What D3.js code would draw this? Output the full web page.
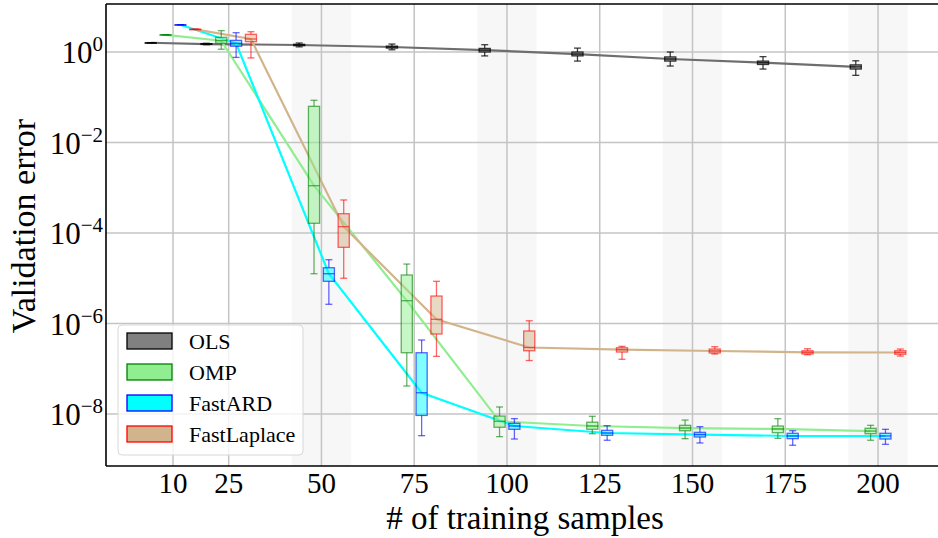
<!DOCTYPE html>
<html>
<head>
<meta charset="utf-8">
<script src="https://cdn.jsdelivr.net/npm/d3@7"></script>
<style>
  body { margin: 0; background: #fff; }
  svg { display: block; }
  text { font-family: "Liberation Serif", "DejaVu Serif", serif; fill: #000; }
</style>
</head>
<body>
<script>
var w = 938;
var h = 538;

// data
var sampleSizes = [10, 25, 50, 75, 100, 125, 150, 175, 200];
var methods = ["OLS", "OMP", "FastARD", "FastLaplace"];
var yTickExps = [0, -2, -4, -6, -8];
var bandCenters = [50, 100, 150, 200];

// each row: [whisker low, q1, median, q3, whisker high]
var olsStats = [
    [1.6, 1.6, 1.6, 1.6, 1.6],
    [1.45, 1.48, 1.5, 1.53, 1.56],
    [1.3, 1.38, 1.43, 1.48, 1.58],
    [1.12, 1.22, 1.29, 1.35, 1.5],
    [0.82, 1.0, 1.1, 1.2, 1.45],
    [0.63, 0.82, 0.9, 1.0, 1.22],
    [0.49, 0.63, 0.7, 0.78, 1.0],
    [0.42, 0.53, 0.58, 0.63, 0.79],
    [0.305, 0.42, 0.47, 0.52, 0.64]
];
var ompStats = [
    [2.4, 2.4, 2.4, 2.4, 2.4],
    [1.15, 1.56, 1.78, 2.11, 2.96],
    [1.26e-5, 1.64e-4, 1.11e-3, 0.063, 0.0857],
    [4.16e-8, 2.26e-7, 3.19e-6, 1.18e-5, 2.06e-5],
    [3.16e-9, 5.1e-9, 6.9e-9, 9.0e-9, 1.43e-8],
    [3.67e-9, 4.6e-9, 5.43e-9, 6.6e-9, 8.9e-9],
    [2.85e-9, 4.27e-9, 4.9e-9, 5.62e-9, 7.36e-9],
    [2.9e-9, 3.86e-9, 4.67e-9, 5.43e-9, 7.87e-9],
    [2.63e-9, 3.67e-9, 4.2e-9, 4.83e-9, 5.62e-9]
];
var ardStats = [
    [4.0, 4.0, 4.0, 4.0, 4.0],
    [0.76, 1.34, 1.56, 1.81, 2.67],
    [2.66e-6, 8.57e-6, 1.26e-5, 1.71e-5, 2.57e-5],
    [3.32e-9, 9.3e-9, 2.95e-8, 2.26e-7, 4.32e-7],
    [2.8e-9, 4.59e-9, 5.43e-9, 6.23e-9, 7.9e-9],
    [2.63e-9, 3.38e-9, 3.8e-9, 4.36e-9, 5.52e-9],
    [2.29e-9, 3.1e-9, 3.52e-9, 3.94e-9, 5.25e-9],
    [2.04e-9, 2.85e-9, 3.27e-9, 3.75e-9, 4.27e-9],
    [2.14e-9, 2.8e-9, 3.27e-9, 3.75e-9, 4.59e-9]
];
var lapStats = [
    [3.17, 3.17, 3.17, 3.17, 3.17],
    [0.74, 1.69, 1.94, 2.46, 2.81],
    [1.0e-5, 4.83e-5, 1.38e-4, 2.67e-4, 5.37e-4],
    [1.88e-7, 5.86e-7, 1.24e-6, 4.05e-6, 8.57e-6],
    [1.52e-7, 2.5e-7, 2.95e-7, 6.83e-7, 1.15e-6],
    [1.62e-7, 2.34e-7, 2.64e-7, 2.92e-7, 3.13e-7],
    [2.12e-7, 2.23e-7, 2.47e-7, 2.73e-7, 3.07e-7],
    [2.04e-7, 2.12e-7, 2.31e-7, 2.5e-7, 2.77e-7],
    [1.91e-7, 2.09e-7, 2.29e-7, 2.5e-7, 2.73e-7]
];
var allStats = [olsStats, ompStats, ardStats, lapStats];

// styling / layout
var styles = [
    { line: "#6e6e6e", fill: "#808080", edge: "#000000" },
    { line: "#90ee90", fill: "#90ee90", edge: "#008000" },
    { line: "#00ffff", fill: "#00ffff", edge: "#0000ff" },
    { line: "#d2b48c", fill: "#d2b48c", edge: "#ff0000" }
];
var groupOffset = [-6, -2, 2, 6];   // shift (in sample units) of each method inside a group
var boxUnits = 3;
var bandHalf = 8;

// note: "top" is reserved on window, so use other names
var pLeft = 106, pRight = 940, pTop = 4, pBottom = 466;

var xScale = d3.scaleLinear()
               .domain([-8.06, 216.7])
               .range([pLeft, pRight]);

var yScale = d3.scaleLog()
               .domain([Math.pow(10, -9.149), Math.pow(10, 1.061)])
               .range([pBottom, pTop]);

var svg = d3.select("body")
            .append("svg")
            .attr("width", w)
            .attr("height", h);

svg.append("rect").attr("width", w).attr("height", h).attr("fill", "#fff");

svg.append("clipPath").attr("id", "plotclip")
   .append("rect")
   .attr("x", pLeft).attr("y", pTop)
   .attr("width", pRight - pLeft).attr("height", pBottom - pTop);

var plot = svg.append("g").attr("clip-path", "url(#plotclip)");

// shaded bands
plot.selectAll("rect.band")
    .data(bandCenters)
    .enter()
    .append("rect")
    .attr("class", "band")
    .attr("x", function(d) { return xScale(d - bandHalf); })
    .attr("y", pTop)
    .attr("width", function(d) { return xScale(d + bandHalf) - xScale(d - bandHalf); })
    .attr("height", pBottom - pTop)
    .attr("fill", "#f7f7f7");

// grid
plot.selectAll("line.vgrid")
    .data(sampleSizes)
    .enter()
    .append("line")
    .attr("class", "vgrid")
    .attr("x1", function(d) { return xScale(d); })
    .attr("x2", function(d) { return xScale(d); })
    .attr("y1", pTop).attr("y2", pBottom)
    .attr("stroke", "#c4c4c4")
    .attr("stroke-width", 1.5);

plot.selectAll("line.hgrid")
    .data(yTickExps)
    .enter()
    .append("line")
    .attr("class", "hgrid")
    .attr("x1", pLeft).attr("x2", pRight)
    .attr("y1", function(d) { return yScale(Math.pow(10, d)); })
    .attr("y2", function(d) { return yScale(Math.pow(10, d)); })
    .attr("stroke", "#c4c4c4")
    .attr("stroke-width", 1.5);

// median lines
var line = d3.line()
             .x(function(d) { return xScale(d[0]); })
             .y(function(d) { return yScale(d[1]); });

allStats.forEach(function(stats, i) {
    var pts = stats.map(function(s, j) { return [sampleSizes[j] + groupOffset[i], s[2]]; });
    plot.append("path")
        .attr("d", line(pts))
        .attr("fill", "none")
        .attr("stroke", styles[i].line)
        .attr("stroke-width", 2.2);
});

// box plots
var bw = xScale(boxUnits) - xScale(0);
var capW = 7;

allStats.forEach(function(stats, i) {
    var st = styles[i];
    var g = plot.append("g");
    stats.forEach(function(s, j) {
        var cx = xScale(sampleSizes[j] + groupOffset[i]);
        var yLo = yScale(s[0]), yQ1 = yScale(s[1]), yMed = yScale(s[2]), yQ3 = yScale(s[3]), yHi = yScale(s[4]);
        var b = g.append("g")
                 .attr("stroke", st.edge)
                 .attr("stroke-opacity", i === 0 ? 0.75 : 0.6)
                 .attr("stroke-width", 1.3);
        b.append("line").attr("x1", cx).attr("x2", cx).attr("y1", yQ3).attr("y2", yHi);
        b.append("line").attr("x1", cx).attr("x2", cx).attr("y1", yQ1).attr("y2", yLo);
        b.append("line").attr("x1", cx - capW / 2).attr("x2", cx + capW / 2).attr("y1", yHi).attr("y2", yHi);
        b.append("line").attr("x1", cx - capW / 2).attr("x2", cx + capW / 2).attr("y1", yLo).attr("y2", yLo);
        b.append("rect")
         .attr("x", cx - bw / 2)
         .attr("y", yQ3)
         .attr("width", bw)
         .attr("height", Math.max(yQ1 - yQ3, 0.5))
         .attr("fill", st.fill)
         .attr("fill-opacity", i === 0 ? 0.7 : 0.5);
        b.append("line").attr("x1", cx - bw / 2).attr("x2", cx + bw / 2).attr("y1", yMed).attr("y2", yMed);
    });
});

// spines
svg.append("line").attr("x1", pLeft).attr("x2", pLeft).attr("y1", pTop).attr("y2", pBottom)
   .attr("stroke", "#000").attr("stroke-width", 1.6);
svg.append("line").attr("x1", pLeft).attr("x2", pRight).attr("y1", pTop).attr("y2", pTop)
   .attr("stroke", "#000").attr("stroke-width", 1.6);
svg.append("line").attr("x1", pLeft).attr("x2", pRight).attr("y1", pBottom).attr("y2", pBottom)
   .attr("stroke", "#000").attr("stroke-width", 1.6);

// x tick labels
svg.selectAll("text.xtick")
   .data(sampleSizes)
   .enter()
   .append("text")
   .attr("class", "xtick")
   .attr("x", function(d) { return xScale(d); })
   .attr("y", 493)
   .attr("text-anchor", "middle")
   .attr("font-size", "29px")
   .text(function(d) { return d; });

// y tick labels 10^k
var yt = svg.selectAll("text.ytick")
   .data(yTickExps)
   .enter()
   .append("text")
   .attr("class", "ytick")
   .attr("x", 103)
   .attr("y", function(d) { return yScale(Math.pow(10, d)) + 11; })
   .attr("text-anchor", "end")
   .attr("font-size", "31px");
yt.append("tspan").text("10");
yt.append("tspan")
  .attr("dy", -12)
  .attr("font-size", "21px")
  .text(function(d) { return d === 0 ? "0" : "\u2212" + Math.abs(d); });

// axis labels
svg.append("text")
   .attr("text-anchor", "middle")
   .attr("x", 525)
   .attr("y", 529)
   .attr("font-size", "33px")
   .text("# of training samples");

svg.append("text")
   .attr("text-anchor", "middle")
   .attr("transform", "rotate(-90)")
   .attr("x", -226)
   .attr("y", 35)
   .attr("font-size", "34px")
   .text("Validation error");

// legend
var legend = svg.append("g");
legend.append("rect")
      .attr("x", 118).attr("y", 325)
      .attr("width", 185).attr("height", 130)
      .attr("rx", 4)
      .attr("fill", "#fff").attr("fill-opacity", 0.8)
      .attr("stroke", "#d8d8d8");

var items = legend.selectAll("g.item")
      .data(methods)
      .enter()
      .append("g")
      .attr("class", "item")
      .attr("transform", function(d, i) { return "translate(0," + (341 + i * 31) + ")"; });

items.append("rect")
     .attr("x", 127).attr("y", -8)
     .attr("width", 45).attr("height", 16)
     .attr("fill", function(d, i) { return styles[i].fill; })
     .attr("stroke", function(d, i) { return styles[i].edge; })
     .attr("stroke-width", 1.3);

items.append("text")
     .attr("x", 189)
     .attr("y", 8)
     .attr("font-size", "22px")
     .text(function(d) { return d; });
</script>
</body>
</html>
